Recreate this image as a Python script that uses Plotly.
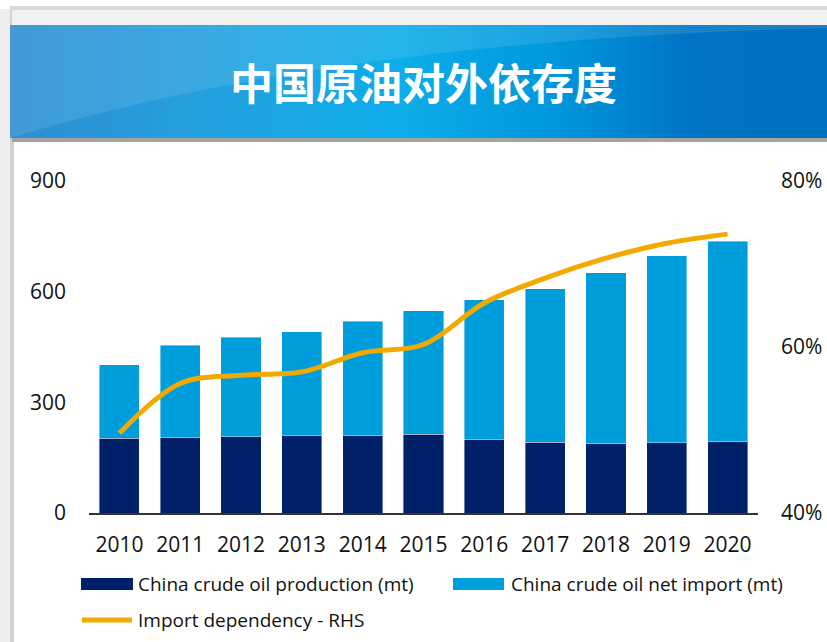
import plotly.graph_objects as go

years = ["2010", "2011", "2012", "2013", "2014", "2015", "2016", "2017", "2018", "2019", "2020"]
production = [203, 204, 207, 209, 211, 214, 199, 192, 189, 191, 195]
net_import = [199, 251, 270, 282, 309, 334, 379, 416, 462, 506, 542]
dependency = [0.496, 0.556, 0.566, 0.570, 0.593, 0.603, 0.653, 0.683, 0.707, 0.725, 0.736]

left_ticks = [0, 300, 600, 900]
right_ticks = [0.4, 0.6, 0.8]

W, H = 827, 642
# plot area in page pixels: x 89..758, y 181..513
L, T = 89, 181
R = W - 758
B = H - 513
PW, PH = W - L - R, H - T - B


def px(x):
    return (x - L) / PW


def py(y):
    return (H - B - y) / PH


NAVY = "#002169"
LIGHT = "#009DDC"
GOLD = "#F2A900"
FONT = "Open Sans, Noto Sans, sans-serif"

fig = go.Figure()
fig.add_trace(go.Bar(x=years, y=production, name="China crude oil production (mt)",
                     marker=dict(color=NAVY, line=dict(color="rgba(255,255,255,0.5)", width=0.8)),
                     showlegend=False))
fig.add_trace(go.Bar(x=years, y=net_import, name="China crude oil net import (mt)",
                     marker=dict(color=LIGHT, line=dict(color="rgba(255,255,255,0.5)", width=0.8)),
                     showlegend=False))
fig.add_trace(go.Scatter(x=years, y=dependency, name="Import dependency - RHS", yaxis="y2",
                         mode="lines", line=dict(color=GOLD, width=5, shape="spline", smoothing=1.0),
                         showlegend=False))

shapes = []
# page frame
shapes.append(dict(type="rect", xref="paper", yref="paper", x0=px(0), x1=px(W), y0=py(0), y1=py(H),
                   fillcolor="white", line=dict(width=0), layer="below"))
shapes.append(dict(type="rect", xref="paper", yref="paper", x0=px(0), x1=px(10), y0=py(9), y1=py(H),
                   fillcolor="#eeeeee", line=dict(width=0), layer="below"))
shapes.append(dict(type="rect", xref="paper", yref="paper", x0=px(10), x1=px(14), y0=py(9), y1=py(H),
                   fillcolor="#d2d2d2", line=dict(width=0), layer="below"))
shapes.append(dict(type="rect", xref="paper", yref="paper", x0=px(10), x1=px(W), y0=py(6), y1=py(10),
                   fillcolor="#d9d9d9", line=dict(width=0), layer="below"))
shapes.append(dict(type="rect", xref="paper", yref="paper", x0=px(12), x1=px(W), y0=py(10), y1=py(25),
                   fillcolor="#f1f1f1", line=dict(width=0), layer="below"))
shapes.append(dict(type="rect", xref="paper", yref="paper", x0=px(12), x1=px(W), y0=py(138), y1=py(142),
                   fillcolor="#a3a3a3", line=dict(width=0), layer="below"))

# header gradient
stops = [(10, (46, 142, 208)), (200, (36, 160, 222)), (400, (12, 173, 233)),
         (560, (0, 150, 220)), (690, (0, 116, 196)), (830, (0, 112, 192))]


def col(x):
    for (xa, ca), (xb, cb) in zip(stops[:-1], stops[1:]):
        if xa <= x <= xb:
            t = (x - xa) / (xb - xa)
            return "rgb(%d,%d,%d)" % tuple(round(a + (b - a) * t) for a, b in zip(ca, cb))
    return "rgb(0,112,192)"


step = 6
x = 10
while x < W:
    shapes.append(dict(type="rect", xref="paper", yref="paper", x0=px(x), x1=px(min(x + step + 1, W)),
                       y0=py(138), y1=py(25), fillcolor=col(x + step / 2), line=dict(width=0), layer="below"))
    x += step

# light sweep (top area above curve)
path = "M %f,%f Q %f,%f %f,%f L %f,%f L %f,%f Z" % (
    px(10), py(138), px(330), py(40), px(W), py(28), px(W), py(25), px(10), py(25))
shapes.append(dict(type="path", xref="paper", yref="paper", path=path,
                   fillcolor="rgba(255,255,255,0.10)", line=dict(width=0), layer="below"))

# manual legend
shapes.append(dict(type="rect", xref="paper", yref="paper", x0=px(81), x1=px(133), y0=py(590), y1=py(578),
                   fillcolor=NAVY, line=dict(width=0)))
shapes.append(dict(type="rect", xref="paper", yref="paper", x0=px(453), x1=px(504), y0=py(590), y1=py(578),
                   fillcolor=LIGHT, line=dict(width=0)))
shapes.append(dict(type="line", xref="paper", yref="paper", x0=px(82), x1=px(132), y0=py(620), y1=py(620),
                   line=dict(color=GOLD, width=5)))

LEG_FONT = dict(family=FONT, size=19, color="#111")
annotations = [
    dict(text="<b>中国原油对外依存度</b>", xref="paper", yref="paper", x=px(423), y=py(81),
         xanchor="center", yanchor="middle", showarrow=False,
         font=dict(family="Noto Sans CJK SC", size=43, color="white")),
    dict(text=fig.data[0].name, xref="paper", yref="paper", x=px(136), y=py(584),
         xanchor="left", yanchor="middle", showarrow=False, font=LEG_FONT),
    dict(text=fig.data[1].name, xref="paper", yref="paper", x=px(509), y=py(584),
         xanchor="left", yanchor="middle", showarrow=False, font=LEG_FONT),
    dict(text=fig.data[2].name, xref="paper", yref="paper", x=px(136), y=py(620),
         xanchor="left", yanchor="middle", showarrow=False, font=LEG_FONT),
]

fig.update_layout(
    width=W, height=H, margin=dict(l=L, r=R, t=T, b=B, pad=0, autoexpand=False),
    paper_bgcolor="white", plot_bgcolor="rgba(0,0,0,0)",
    barmode="stack", bargap=0.34,
    font=dict(family=FONT, size=21, color="#111"),
    shapes=shapes, annotations=annotations,
    xaxis=dict(type="category", showline=True, linecolor="#333", linewidth=2, ticks="",
               showgrid=False, tickfont=dict(size=21), ticklabelstandoff=12, automargin=False),
    yaxis=dict(range=[0, 900], tickvals=left_ticks, showgrid=False, zeroline=False, ticks="",
               showline=False, tickfont=dict(size=21), ticklabelstandoff=22, automargin=False),
    yaxis2=dict(range=[0.4, 0.8], tickvals=right_ticks, tickformat=".0%", overlaying="y", side="right",
                showgrid=False, zeroline=False, ticks="", showline=False, tickfont=dict(size=21),
                ticklabelstandoff=22, automargin=False),
)

fig.write_html(
    "out.html",
    config={"displayModeBar": False},
    post_script="document.body.style.margin='0';document.documentElement.style.overflow='hidden';",
)
